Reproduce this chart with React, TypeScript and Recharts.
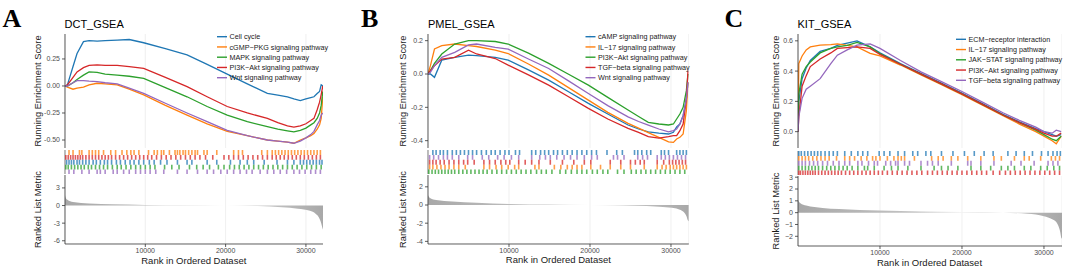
import { LineChart, Line, XAxis, YAxis, CartesianGrid, ScatterChart, Scatter, AreaChart, Area } from 'recharts';

const FONT = '"Liberation Sans", Arial, Helvetica, sans-serif';
const COLORS = ['#1f77b4', '#ff7f0e', '#2ca02c', '#d62728', '#9467bd'];
const RANK_MAX = 32200;
const GRID_TICKS = [5000, 10000, 15000, 20000, 25000, 30000];
const X_TICKS = [10000, 20000, 30000];

// ---------- A: DCT ----------
const dctNames = ['Cell cycle', 'cGMP\u2212PKG signaling pathway', 'MAPK signaling pathway', 'PI3K\u2212Akt signaling pathway', 'Wnt signaling pathway'];
const dctRanks = [0, 300, 1000, 1500, 2300, 3000, 4000, 5000, 6500, 8000, 9800, 12500, 15200, 17700, 20200, 22700, 25200, 26500, 27700, 28500, 29300, 30000, 30600, 31000, 31400, 31700, 31900, 32100];
const dctCellCycle = [0, 0.01, 0.18, 0.3, 0.41, 0.42, 0.415, 0.42, 0.425, 0.43, 0.4, 0.345, 0.287, 0.2, 0.11, 0.02, -0.068, -0.085, -0.1, -0.12, -0.135, -0.12, -0.108, -0.1, -0.07, -0.05, 0.01, 0];
const dctCgmp = [0, -0.01, -0.03, -0.02, -0.01, 0.01, 0.025, 0.02, 0.01, -0.03, -0.083, -0.18, -0.27, -0.35, -0.42, -0.46, -0.5, -0.51, -0.52, -0.53, -0.5, -0.48, -0.46, -0.44, -0.4, -0.36, -0.3, -0.1];
const dctMapk = [0, 0, 0.03, 0.06, 0.1, 0.13, 0.125, 0.11, 0.1, 0.09, 0.07, -0.015, -0.1, -0.19, -0.27, -0.33, -0.377, -0.4, -0.415, -0.425, -0.41, -0.39, -0.36, -0.34, -0.3, -0.25, -0.18, -0.05];
const dctPi3k = [0, 0.01, 0.08, 0.13, 0.17, 0.19, 0.195, 0.19, 0.19, 0.18, 0.163, 0.08, -0.006, -0.1, -0.19, -0.25, -0.3, -0.34, -0.37, -0.38, -0.37, -0.35, -0.32, -0.3, -0.22, -0.15, -0.08, 0];
const dctWnt = [0, 0, 0.03, 0.05, 0.05, 0.045, 0.04, 0.03, 0.02, -0.02, -0.068, -0.16, -0.25, -0.33, -0.41, -0.46, -0.5, -0.51, -0.52, -0.53, -0.51, -0.48, -0.45, -0.42, -0.36, -0.32, -0.27, -0.25];
// hit positions, in thousands of ranks
const dctHitsCellCycle = [0.2, 0.5, 0.8, 1.1, 1.5, 1.8, 2.2, 2.6, 3.0, 3.5, 3.9, 4.4, 4.9, 5.3, 5.8, 6.4, 6.9, 7.5, 8.1, 8.6, 9.2, 9.8, 10.5, 11.1, 11.9, 12.7, 14.0, 15.2, 15.8, 17.7, 18.9, 20.6, 21.8, 22.7, 23.5, 24.8, 26.4, 27.7, 28.5, 29.3, 29.7, 30.1, 30.5, 30.9, 31.3, 31.7, 32.0];
const dctHitsCgmp = [0.5, 1.0, 1.8, 2.1, 3.0, 3.4, 3.8, 4.2, 4.8, 5.7, 6.3, 7.1, 7.7, 8.2, 8.6, 9.2, 10.4, 11.1, 11.5, 12.0, 12.3, 13.0, 13.7, 14.0, 14.3, 14.7, 15.0, 15.4, 15.8, 16.2, 16.5, 17.3, 17.7, 18.9, 21.0, 21.6, 22.1, 24.5, 25.2, 25.8, 26.2, 26.6, 27.0, 27.4, 27.8, 28.2, 28.6, 29.0, 29.4, 29.8, 30.2, 30.6, 31.0, 31.4, 31.8];
const dctHitsMapk = [0.1, 0.4, 0.8, 1.2, 1.6, 2.0, 2.4, 2.9, 3.3, 3.8, 4.3, 4.8, 5.3, 5.9, 6.5, 7.0, 7.6, 8.2, 8.8, 9.4, 10.0, 10.6, 11.2, 12.4, 13.3, 14.2, 15.5, 16.4, 17.2, 18.0, 19.1, 19.8, 20.5, 21.1, 21.7, 22.3, 22.9, 23.5, 24.1, 24.7, 25.3, 25.9, 26.5, 27.1, 27.7, 28.3, 28.9, 29.5, 30.1, 30.7, 31.3, 31.9];
const dctHitsPi3k = [0.1, 0.4, 0.7, 1.0, 1.3, 1.6, 1.9, 2.2, 2.6, 3.0, 3.4, 3.8, 4.2, 4.6, 5.0, 5.4, 5.8, 6.3, 6.8, 7.3, 7.8, 8.3, 8.8, 9.3, 9.8, 10.3, 10.8, 11.4, 12.0, 12.6, 13.2, 13.8, 14.4, 15.0, 15.6, 16.2, 16.8, 17.5, 18.4, 19.8, 20.4, 21.0, 21.6, 22.2, 22.8, 23.4, 24.0, 24.6, 25.2, 25.8, 26.3, 26.8, 27.3, 27.8, 28.3, 28.8, 29.3, 29.8, 30.3, 30.8, 31.3, 31.8];
const dctHitsWnt = [0.5, 1.1, 2.1, 3.0, 4.0, 4.4, 5.0, 6.0, 6.5, 7.3, 8.0, 8.8, 9.4, 10.0, 10.6, 11.3, 12.3, 14.0, 15.2, 16.5, 17.7, 18.5, 19.4, 20.2, 21.0, 21.8, 22.6, 23.3, 24.3, 25.2, 26.0, 26.8, 27.6, 28.5, 29.2, 29.9, 30.6, 31.2, 31.8];
const dctMetricRanks = [0, 100, 300, 1000, 2000, 3000, 6000, 10000, 15000, 20000, 24000, 27000, 29000, 30500, 31200, 31600, 31900, 32100, 32200];
const dctMetric = [1.8, 1.3, 1.0, 0.6, 0.45, 0.35, 0.2, 0.1, 0.03, 0, -0.1, -0.3, -0.55, -0.9, -1.4, -2.0, -3.0, -4.0, -4.3];

// ---------- B: PMEL ----------
const pmelNames = ['cAMP signaling pathway', 'IL\u221217 signaling pathway', 'PI3K\u2212Akt signaling pathway', 'TGF\u2212beta signaling pathway', 'Wnt signaling pathway'];
const pmelRanks = [0, 300, 800, 1700, 3300, 5000, 6000, 8300, 9900, 12400, 14900, 17300, 19800, 22200, 24700, 26000, 27200, 28500, 29700, 30300, 30700, 31100, 31500, 31900, 32100];
const pmelCamp = [0, 0, -0.02, 0.083, 0.1, 0.113, 0.11, 0.1, 0.083, 0.025, -0.037, -0.105, -0.176, -0.24, -0.306, -0.33, -0.347, -0.355, -0.36, -0.35, -0.317, -0.3, -0.25, -0.15, -0.05];
const pmelIl17 = [0, 0.05, 0.15, 0.17, 0.18, 0.17, 0.165, 0.143, 0.123, 0.06, -0.007, -0.08, -0.157, -0.23, -0.296, -0.325, -0.352, -0.38, -0.407, -0.41, -0.39, -0.38, -0.36, -0.22, -0.05];
const pmelPi3k = [0, 0.02, 0.064, 0.12, 0.18, 0.2, 0.2, 0.195, 0.18, 0.125, 0.064, 0, -0.067, -0.14, -0.216, -0.255, -0.29, -0.3, -0.306, -0.3, -0.27, -0.24, -0.2, -0.1, 0];
const pmelTgf = [0, 0.02, 0.05, 0.09, 0.1, 0.143, 0.12, 0.093, 0.053, -0.005, -0.067, -0.135, -0.206, -0.27, -0.326, -0.35, -0.376, -0.385, -0.376, -0.37, -0.37, -0.34, -0.3, -0.15, 0.02];
const pmelWnt = [0, 0.01, 0.05, 0.1, 0.13, 0.175, 0.18, 0.16, 0.149, 0.09, 0.033, -0.04, -0.117, -0.19, -0.257, -0.285, -0.307, -0.33, -0.347, -0.34, -0.33, -0.3, -0.25, -0.15, -0.05];
const pmelHitsCamp = [0.6, 1.0, 1.5, 1.9, 2.4, 3.0, 3.5, 4.0, 4.5, 5.0, 5.5, 6.0, 6.6, 7.2, 7.8, 8.3, 8.9, 9.5, 10.0, 10.8, 11.3, 12.8, 13.3, 13.9, 14.4, 14.9, 15.5, 16.0, 16.6, 17.2, 17.8, 18.4, 19.0, 19.6, 20.2, 20.8, 22.1, 23.3, 24.0, 25.5, 25.9, 26.4, 27.0, 27.5, 28.8, 29.2, 29.7, 30.7, 31.1, 31.5, 31.9];
const pmelHitsIl17 = [0.2, 0.6, 1.1, 1.6, 2.1, 2.6, 3.2, 3.8, 4.6, 6.9, 7.6, 8.4, 9.1, 9.9, 10.7, 11.2, 13.2, 13.7, 15.6, 16.4, 17.2, 17.8, 18.4, 19.0, 20.1, 21.3, 22.5, 23.8, 25.0, 26.7, 28.3, 28.9, 29.4, 29.9, 30.3, 30.7, 31.1, 31.5, 31.9];
const pmelHitsPi3k = [0.1, 0.5, 0.9, 1.3, 1.7, 2.1, 2.5, 2.9, 3.3, 3.8, 4.3, 4.8, 5.3, 5.8, 6.3, 6.8, 7.3, 7.9, 8.5, 9.1, 9.7, 10.3, 10.9, 11.5, 12.1, 12.7, 13.4, 14.0, 14.6, 15.3, 16.3, 17.0, 17.7, 18.4, 19.0, 19.6, 20.3, 20.9, 21.6, 22.2, 23.4, 24.2, 25.1, 25.7, 26.3, 26.9, 27.5, 28.1, 28.7, 29.3, 29.9, 30.5, 31.1, 31.7];
const pmelHitsTgf = [0.2, 0.6, 1.0, 1.5, 2.0, 2.6, 3.2, 3.8, 4.4, 4.9, 5.7, 6.9, 7.6, 8.3, 9.0, 9.6, 10.1, 11.2, 12.0, 12.8, 13.7, 15.1, 16.6, 18.0, 19.3, 20.1, 22.5, 23.8, 25.0, 25.6, 26.2, 26.7, 28.3, 29.1, 29.8, 30.2, 30.6, 31.0, 31.4, 31.8];
const pmelHitsWnt = [0.2, 0.7, 1.3, 1.9, 2.4, 3.0, 3.8, 4.9, 5.5, 6.7, 7.5, 8.6, 9.4, 10.3, 11.2, 12.8, 13.8, 14.5, 15.1, 15.9, 16.8, 17.6, 18.4, 19.3, 20.2, 20.9, 22.9, 23.4, 24.2, 25.9, 26.5, 27.1, 28.3, 28.8, 29.3, 29.8, 30.3, 30.8, 31.3, 31.8];
const pmelMetricRanks = [0, 100, 300, 1000, 2000, 3000, 6000, 10000, 15000, 20000, 24000, 27000, 29000, 30500, 31200, 31600, 31900, 32100, 32200];
const pmelMetric = [1.1, 0.9, 0.75, 0.55, 0.45, 0.38, 0.25, 0.12, 0.05, 0, -0.05, -0.12, -0.22, -0.35, -0.55, -0.8, -1.2, -1.7, -1.8];

// ---------- C: KIT ----------
const kitNames = ['ECM\u2212receptor interaction', 'IL\u221217 signaling pathway', 'JAK\u2212STAT signaling pathway', 'PI3K\u2212Akt signaling pathway', 'TGF\u2212beta signaling pathway'];
const kitRanks = [0, 100, 500, 1000, 1500, 2700, 4000, 4800, 6000, 7200, 8800, 10000, 12500, 15000, 17500, 20000, 22500, 25000, 27000, 29000, 30000, 31000, 31500, 32100];
const kitEcm = [0, 0.2, 0.35, 0.42, 0.47, 0.53, 0.55, 0.57, 0.585, 0.6, 0.56, 0.52, 0.45, 0.385, 0.32, 0.255, 0.185, 0.115, 0.065, 0.02, 0, -0.02, -0.03, -0.02];
const kitIl17 = [0, 0.45, 0.5, 0.54, 0.56, 0.572, 0.575, 0.58, 0.57, 0.56, 0.517, 0.5, 0.44, 0.375, 0.31, 0.245, 0.175, 0.105, 0.05, 0, -0.03, -0.06, -0.08, -0.03];
const kitJak = [0, 0.25, 0.38, 0.43, 0.46, 0.52, 0.55, 0.56, 0.57, 0.59, 0.56, 0.515, 0.445, 0.38, 0.315, 0.25, 0.18, 0.11, 0.06, 0.01, -0.02, -0.05, -0.06, -0.03];
const kitPi3k = [0, 0.1, 0.3, 0.37, 0.43, 0.48, 0.52, 0.55, 0.555, 0.56, 0.55, 0.51, 0.445, 0.38, 0.315, 0.25, 0.18, 0.11, 0.06, 0.015, -0.01, -0.03, -0.03, -0.01];
const kitTgf = [0, 0.1, 0.22, 0.28, 0.3, 0.35, 0.45, 0.505, 0.54, 0.572, 0.58, 0.55, 0.47, 0.395, 0.33, 0.265, 0.195, 0.125, 0.075, 0.03, 0, -0.01, 0.01, 0];
const kitHitsEcm = [0.1, 0.4, 0.8, 1.2, 1.6, 2.0, 2.4, 2.8, 3.3, 3.8, 4.3, 4.8, 5.7, 6.5, 7.3, 7.9, 8.5, 9.9, 10.5, 11.2, 12.2, 13.0, 14.0, 14.6, 15.6, 16.2, 17.5, 18.9, 20.3, 21.5, 22.7, 23.8, 25.6, 26.6, 27.6, 28.6, 29.7, 30.5, 31.1, 31.6, 32.0];
const kitHitsIl17 = [0.1, 0.5, 0.9, 1.3, 1.8, 2.3, 2.8, 3.3, 3.8, 4.7, 5.7, 6.3, 6.9, 7.7, 8.4, 9.1, 9.5, 10.0, 10.9, 11.7, 12.2, 12.6, 13.0, 14.2, 16.3, 17.1, 17.7, 18.7, 19.5, 20.7, 22.3, 23.9, 24.8, 26.4, 27.6, 28.2, 29.6, 30.9, 31.4, 31.9];
const kitHitsJak = [0.1, 0.5, 0.9, 1.3, 1.7, 2.1, 2.5, 3.0, 3.5, 4.0, 4.5, 5.0, 5.5, 6.0, 6.6, 7.3, 8.1, 8.5, 9.3, 10.5, 11.4, 12.2, 13.4, 15.0, 16.6, 17.5, 18.3, 19.5, 21.1, 22.3, 23.5, 24.8, 25.6, 26.4, 27.6, 28.4, 29.6, 30.4, 31.2, 31.9];
const kitHitsPi3k = [0.1, 0.3, 0.6, 0.9, 1.2, 1.5, 1.8, 2.1, 2.5, 2.9, 3.3, 3.7, 4.1, 4.5, 4.9, 5.3, 5.8, 6.3, 6.8, 7.3, 7.8, 8.3, 8.8, 9.3, 9.8, 10.3, 10.9, 11.5, 12.1, 12.7, 13.3, 13.9, 14.5, 15.1, 15.8, 16.4, 17.0, 17.6, 18.2, 18.8, 19.4, 20.0, 20.6, 21.2, 21.8, 22.4, 23.0, 23.8, 24.6, 25.3, 25.9, 26.5, 27.1, 27.7, 28.3, 28.9, 29.5, 30.1, 30.7, 31.3, 31.9];
const kitHitsTgf = [0.1, 0.5, 0.9, 1.4, 1.9, 2.4, 3.0, 3.6, 4.3, 5.0, 5.7, 6.3, 7.3, 7.8, 8.6, 9.3, 9.7, 10.7, 11.3, 11.9, 12.2, 13.0, 13.6, 15.0, 15.8, 16.4, 17.1, 18.7, 20.7, 21.1, 22.3, 23.9, 26.0, 27.2, 28.8, 30.5, 31.1, 31.7];
const kitMetricRanks = [0, 100, 300, 1000, 2000, 3000, 5000, 10000, 15000, 20000, 25000, 28000, 30000, 31000, 31500, 31800, 32000, 32100, 32200];
const kitMetric = [1.1, 0.95, 0.8, 0.6, 0.48, 0.4, 0.3, 0.18, 0.1, 0.05, 0, -0.1, -0.3, -0.55, -0.8, -1.2, -1.7, -2.1, -2.2];

type PanelCfg = {
  id: string;
  letter: string;
  letterX: number;
  title: string;
  x0: number;
  plotW: number;
  names: string[];
  ranks: number[];
  values: number[][];
  hits: number[][];
  rugOrder: number[];
  esDomain: [number, number];
  esTicks: number[];
  esFmt: (v: number) => string;
  metricRanks: number[];
  metric: number[];
  mTop: number;
  mBottom: number;
  mDomain: [number, number];
  mTicks: number[];
  mFmt: (v: number) => string;
  yLabelX: number;
  legendKeyX: number;
  legendTextX: number;
  legendY: number;
  xLabelY: number;
  rugTop: number;
};

const minus = (s: string) => s.replace('-', '\u2212');

const panels: PanelCfg[] = [
  {
    id: 'a', letter: 'A', letterX: 2.5, title: 'DCT_GSEA', x0: 64.5, plotW: 258.6,
    names: dctNames, ranks: dctRanks,
    values: [dctCellCycle, dctCgmp, dctMapk, dctPi3k, dctWnt],
    hits: [dctHitsCellCycle, dctHitsCgmp, dctHitsMapk, dctHitsPi3k, dctHitsWnt],
    rugOrder: [1, 3, 0, 2, 4],
    esDomain: [-0.574, 0.481], esTicks: [-0.5, -0.25, 0, 0.25], esFmt: (v) => v.toFixed(2),
    metricRanks: dctMetricRanks, metric: dctMetric, mTop: 175, mBottom: 244,
    mDomain: [-6.55, 5.2], mTicks: [-6, -3, 0, 3], mFmt: (v) => String(v),
    yLabelX: 40.5, legendKeyX: 217, legendTextX: 229.5, legendY: 36.7, xLabelY: 263.5, rugTop: 149.5,
  },
  {
    id: 'b', letter: 'B', letterX: 361, title: 'PMEL_GSEA', x0: 428, plotW: 260.8,
    names: pmelNames, ranks: pmelRanks,
    values: [pmelCamp, pmelIl17, pmelPi3k, pmelTgf, pmelWnt],
    hits: [pmelHitsCamp, pmelHitsIl17, pmelHitsPi3k, pmelHitsTgf, pmelHitsWnt],
    rugOrder: [0, 4, 3, 1, 2],
    esDomain: [-0.444, 0.24], esTicks: [-0.4, -0.2, 0, 0.2], esFmt: (v) => v.toFixed(1),
    metricRanks: pmelMetricRanks, metric: pmelMetric, mTop: 175, mBottom: 244,
    mDomain: [-4.29, 3.3], mTicks: [-4, -2, 0, 2], mFmt: (v) => String(v),
    yLabelX: 406, legendKeyX: 585.5, legendTextX: 598, legendY: 36.7, xLabelY: 262.5, rugTop: 149.5,
  },
  {
    id: 'c', letter: 'C', letterX: 724.5, title: 'KIT_GSEA', x0: 797.5, plotW: 264,
    names: kitNames, ranks: kitRanks,
    values: [kitEcm, kitIl17, kitJak, kitPi3k, kitTgf],
    hits: [kitHitsEcm, kitHitsIl17, kitHitsJak, kitHitsPi3k, kitHitsTgf],
    rugOrder: [0, 1, 4, 2, 3],
    esDomain: [-0.108, 0.645], esTicks: [0, 0.2, 0.4, 0.6], esFmt: (v) => v.toFixed(1),
    metricRanks: kitMetricRanks, metric: kitMetric, mTop: 176, mBottom: 246,
    mDomain: [-2.82, 3.1], mTicks: [-2, -1, 0, 1, 2, 3], mFmt: (v) => minus(String(v)),
    yLabelX: 779, legendKeyX: 956, legendTextX: 968.5, legendY: 39.3, xLabelY: 265.5, rugTop: 150.5,
  },
];

const Y_W = 40;
const ES_TOP = 34;
const ES_BOTTOM = 148;
const RUG_H = 24.5;
const tickStyle = { fontSize: 7, fill: '#4d4d4d', fontFamily: FONT };
const axisStroke = { stroke: '#333333', strokeWidth: 0.8 };

function Panel({ cfg }: { cfg: PanelCfg }) {
  const left = cfg.x0 - Y_W;
  const width = Y_W + cfg.plotW;
  const esData = cfg.ranks.map((r, i) => {
    const row: Record<string, number> = { rank: r };
    cfg.values.forEach((vals, j) => { row['s' + j] = vals[i]; });
    return row;
  });
  const metricData = cfg.metricRanks.map((r, i) => ({ rank: r, v: cfg.metric[i] }));
  const rowH = RUG_H / 5;
  const esH = ES_BOTTOM - ES_TOP;
  const mH = cfg.mBottom - cfg.mTop;

  return (
    <>
      <div style={{ position: 'absolute', left, top: ES_TOP - 6 }}>
        <LineChart width={width} height={esH + 12} data={esData} margin={{ top: 6, right: 0, bottom: 6, left: 0 }}>
          <CartesianGrid horizontal={false} stroke="#ebebeb" strokeWidth={0.8} />
          <XAxis type="number" dataKey="rank" domain={[0, RANK_MAX]} ticks={GRID_TICKS} hide allowDataOverflow />
          <YAxis
            type="number" domain={cfg.esDomain} ticks={cfg.esTicks} width={Y_W} allowDataOverflow interval={0}
            tickFormatter={cfg.esFmt} tick={tickStyle} tickSize={3} axisLine={axisStroke} tickLine={axisStroke}
          />
          {cfg.values.map((_, j) => (
            <Line key={j} type="linear" dataKey={'s' + j} stroke={COLORS[j]} strokeWidth={1.3} dot={false} isAnimationActive={false} />
          ))}
        </LineChart>
      </div>

      <div style={{ position: 'absolute', left, top: cfg.rugTop }}>
        <ScatterChart width={width} height={RUG_H} margin={{ top: 0, right: 0, bottom: 0, left: 0 }}>
          <XAxis type="number" dataKey="x" domain={[0, RANK_MAX]} hide allowDataOverflow />
          <YAxis type="number" dataKey="y" domain={[0, 5]} reversed width={Y_W} tick={false} tickLine={false} axisLine={{ stroke: '#555', strokeWidth: 0.8 }} />
          {cfg.rugOrder.map((si, row) => (
            <Scatter
              key={si}
              data={cfg.hits[si].map((h) => ({ x: h * 1000, y: row + 0.5 }))}
              isAnimationActive={false}
              shape={(p: any) => (
                <line x1={p.cx} x2={p.cx} y1={p.cy - rowH / 2} y2={p.cy + rowH / 2} stroke={COLORS[si]} strokeWidth={1.6} strokeOpacity={0.75} />
              )}
            />
          ))}
        </ScatterChart>
      </div>

      <div style={{ position: 'absolute', left, top: cfg.mTop - 6 }}>
        <AreaChart width={width} height={mH + 6 + 22} data={metricData} margin={{ top: 6, right: 0, bottom: 0, left: 0 }}>
          <defs>
            <linearGradient id={'mg-' + cfg.id} x1="0" y1="0" x2="1" y2="0">
              <stop offset="0" stopColor="#a8a8a8" />
              <stop offset="0.45" stopColor="#c4c4c4" />
              <stop offset="0.62" stopColor="#f2f2f2" />
              <stop offset="0.78" stopColor="#c4c4c4" />
              <stop offset="1" stopColor="#a8a8a8" />
            </linearGradient>
          </defs>
          <CartesianGrid xAxisId="grid" horizontal={false} stroke="#ebebeb" strokeWidth={0.8} />
          <XAxis xAxisId="grid" type="number" dataKey="rank" domain={[0, RANK_MAX]} ticks={GRID_TICKS} hide allowDataOverflow />
          <XAxis
            type="number" dataKey="rank" domain={[0, RANK_MAX]} ticks={X_TICKS} height={22} allowDataOverflow interval={0}
            tick={tickStyle} tickSize={3} tickMargin={1} axisLine={axisStroke} tickLine={axisStroke}
          />
          <YAxis
            type="number" domain={cfg.mDomain} ticks={cfg.mTicks} width={Y_W} allowDataOverflow interval={0}
            tickFormatter={cfg.mFmt} tick={tickStyle} tickSize={3} axisLine={axisStroke} tickLine={axisStroke}
          />
          <Area type="monotone" dataKey="v" baseValue={0} stroke="none" fill={`url(#mg-${cfg.id})`} fillOpacity={1} isAnimationActive={false} />
        </AreaChart>
      </div>
    </>
  );
}

function Labels({ cfg }: { cfg: PanelCfg }) {
  const esMid = (ES_TOP + ES_BOTTOM) / 2;
  const mMid = (cfg.mTop + cfg.mBottom) / 2;
  return (
    <g fontFamily={FONT}>
      <text x={cfg.letterX} y={26.7} fontFamily='"Liberation Serif", "Times New Roman", serif' fontWeight="bold" fontSize={26} fill="#000">
        {cfg.letter}
      </text>
      <text x={cfg.x0} y={28.3} fontSize={11} fill="#000">{cfg.title}</text>
      <text x={cfg.yLabelX} y={esMid} fontSize={9.3} fill="#1a1a1a" textAnchor="middle" transform={`rotate(-90 ${cfg.yLabelX} ${esMid})`}>
        Running Enrichment Score
      </text>
      <text x={cfg.yLabelX} y={mMid} fontSize={9.3} fill="#1a1a1a" textAnchor="middle" transform={`rotate(-90 ${cfg.yLabelX} ${mMid})`}>
        Ranked List Metric
      </text>
      <text x={cfg.x0 + cfg.plotW / 2} y={cfg.xLabelY} fontSize={9.5} fill="#1a1a1a" textAnchor="middle">
        Rank in Ordered Dataset
      </text>
      {cfg.names.map((n, j) => {
        const y = cfg.legendY + j * 10.25;
        return (
          <g key={n}>
            <line x1={cfg.legendKeyX} x2={cfg.legendKeyX + 10} y1={y} y2={y} stroke={COLORS[j]} strokeWidth={1.4} />
            <text x={cfg.legendTextX} y={y + 2.6} fontSize={7.2} fill="#1a1a1a">{n}</text>
          </g>
        );
      })}
    </g>
  );
}

export default function App() {
  return (
    <div style={{ position: 'absolute', left: 0, top: 0, width: 1065, height: 267, background: '#fff', overflow: 'hidden' }}>
      {panels.map((p) => <Panel key={p.id} cfg={p} />)}
      <svg width={1065} height={267} style={{ position: 'absolute', left: 0, top: 0, pointerEvents: 'none' }}>
        {panels.map((p) => <Labels key={p.id} cfg={p} />)}
      </svg>
    </div>
  );
}
